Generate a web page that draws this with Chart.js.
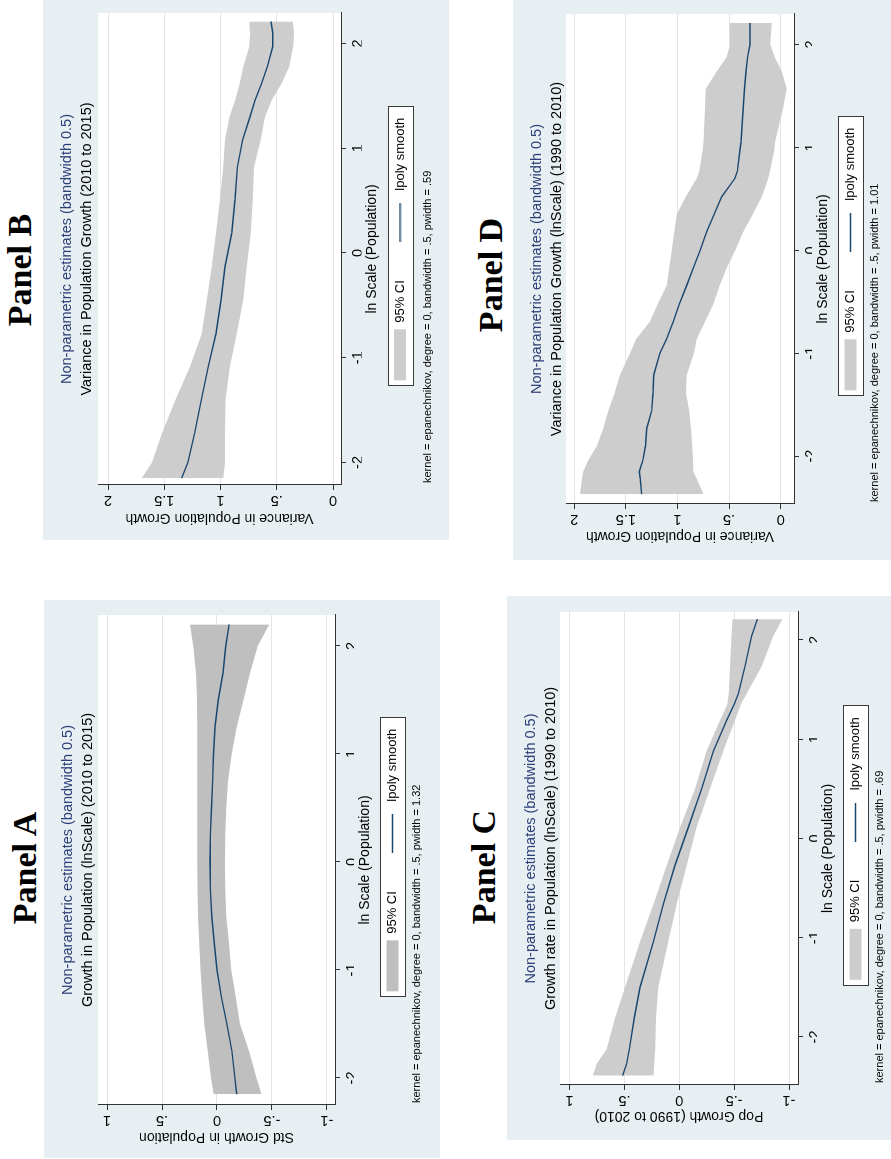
<!DOCTYPE html>
<html>
<head>
<meta charset="utf-8">
<script src="https://cdn.jsdelivr.net/npm/chart.js@4.4.1/dist/chart.umd.min.js"></script>
<style>
  html, body { margin: 0; padding: 0; background: #ffffff; }
  body { width: 891px; height: 1159px; position: relative; overflow: hidden; }
  .panel { position: absolute; transform: rotate(-90deg); transform-origin: 50% 50%; }
  .heading { position: absolute; transform: translate(-50%, -50%); white-space: nowrap;
             font-family: 'Liberation Serif', 'Times New Roman', serif; font-weight: bold;
             font-size: 34px; line-height: 1; color: #000; }
  .box { position: absolute; left: 0; background: #e8eff2; }
  canvas { display: block; }
</style>
</head>
<body>
<script>
// ---------- shared axis ticks ----------
const xTicks = [-2, -1, 0, 1, 2];
const xTickLabels = ['-2', '-1', '0', '1', '2'];
const yTicksStd = [-1, -0.5, 0, 0.5, 1];
const yTickLabelsStd = ['-1', '-.5', '0', '.5', '1'];
const yTicksVar = [0, 0.5, 1, 1.5, 2];
const yTickLabelsVar = ['0', '.5', '1', '1.5', '2'];

// ---------- Panel A: std growth in population, 2010-2015 ----------
const lnScaleA = [-2.15, -2, -1.75, -1.5, -1.25, -1, -0.75, -0.5, -0.25, 0, 0.25, 0.5, 0.75, 1, 1.25, 1.5, 1.75, 2, 2.2];
const smoothA  = [-0.18, -0.163, -0.135, -0.09, -0.04, 0.0, 0.025, 0.048, 0.06, 0.063, 0.06, 0.05, 0.04, 0.032, 0.018, -0.012, -0.055, -0.08, -0.11];
const ciUpperA = [0.03, 0.055, 0.085, 0.115, 0.135, 0.15, 0.162, 0.172, 0.178, 0.18, 0.18, 0.18, 0.18, 0.18, 0.18, 0.182, 0.19, 0.215, 0.245];
const ciLowerA = [-0.405, -0.36, -0.29, -0.21, -0.17, -0.13, -0.11, -0.085, -0.075, -0.072, -0.075, -0.085, -0.1, -0.135, -0.18, -0.24, -0.3, -0.37, -0.475];

// ---------- Panel B: variance in population growth, 2010-2015 ----------
const lnScaleB = [-2.15, -2.0, -1.72, -1.4, -1.08, -0.77, -0.45, -0.13, 0.19, 0.51, 0.82, 1.08, 1.3, 1.46, 1.62, 1.78, 1.97, 2.1, 2.21];
const smoothB  = [1.345, 1.29, 1.23, 1.17, 1.108, 1.04, 0.996, 0.96, 0.9, 0.871, 0.85, 0.803, 0.738, 0.693, 0.634, 0.584, 0.536, 0.536, 0.551];
const ciUpperB = [1.70, 1.61, 1.52, 1.40, 1.27, 1.167, 1.123, 1.078, 1.04, 1.004, 0.975, 0.96, 0.92, 0.87, 0.83, 0.797, 0.745, 0.738, 0.744];
const ciLowerB = [0.975, 0.96, 0.96, 0.955, 0.916, 0.856, 0.797, 0.767, 0.732, 0.714, 0.702, 0.643, 0.604, 0.545, 0.456, 0.388, 0.353, 0.347, 0.359];

// ---------- Panel C: population growth rate, 1990-2010 ----------
const lnScaleC = [-2.39, -2.27, -2.12, -1.81, -1.5, -1.04, -0.66, -0.27, 0.11, 0.5, 0.88, 1.19, 1.35, 1.46, 1.73, 2.04, 2.21];
const smoothC  = [0.516, 0.48, 0.455, 0.41, 0.358, 0.236, 0.145, 0.039, -0.082, -0.204, -0.31, -0.431, -0.5, -0.538, -0.598, -0.659, -0.711];
const ciUpperC = [0.789, 0.753, 0.661, 0.585, 0.494, 0.358, 0.236, 0.115, -0.006, -0.143, -0.249, -0.371, -0.437, -0.452, -0.462, -0.477, -0.486];
const ciLowerC = [0.236, 0.228, 0.218, 0.212, 0.191, 0.1, 0.024, -0.067, -0.158, -0.28, -0.401, -0.507, -0.56, -0.614, -0.75, -0.856, -0.94];

// ---------- Panel D: variance in population growth, 1990-2010 ----------
const lnScaleD = [-2.37, -2.22, -2.15, -2.04, -1.9, -1.73, -1.56, -1.39, -1.21, -1.0, -0.86, -0.69, -0.52, -0.34, -0.17, 0.0, 0.18, 0.35, 0.52, 0.7, 0.77, 0.98, 1.05, 1.39, 1.57, 1.74, 1.88, 2.0, 2.21];
const smoothD  = [1.347, 1.36, 1.37, 1.335, 1.31, 1.298, 1.25, 1.237, 1.23, 1.17, 1.105, 1.04, 0.982, 0.91, 0.846, 0.78, 0.717, 0.645, 0.572, 0.443, 0.42, 0.394, 0.385, 0.362, 0.35, 0.336, 0.32, 0.297, 0.297];
const ciUpperD = [1.944, 1.925, 1.912, 1.864, 1.78, 1.72, 1.67, 1.61, 1.557, 1.46, 1.4, 1.266, 1.19, 1.105, 1.08, 1.056, 1.03, 1.008, 0.92, 0.814, 0.79, 0.755, 0.749, 0.733, 0.725, 0.62, 0.523, 0.491, 0.497];
const ciLowerD = [0.749, 0.814, 0.846, 0.85, 0.856, 0.87, 0.885, 0.917, 0.911, 0.84, 0.814, 0.73, 0.652, 0.59, 0.523, 0.44, 0.362, 0.27, 0.184, 0.12, 0.103, 0.06, 0.055, -0.026, -0.058, -0.01, 0.06, 0.1, 0.087];

// ---------- text ----------
const estimateTitle = 'Non-parametric estimates (bandwidth 0.5)';
const xAxisTitle = 'ln Scale (Population)';
const legendLabels = ['95% CI', 'lpoly smooth'];

// ---------- styling ----------
const NAVY = '#1a476f';
const TITLE_NAVY = '#2b3f78';
const AXIS = '#333333';
const GRID = '#dde6ea';
const FONT = "'Liberation Sans', Arial, Helvetica, sans-serif";
Chart.defaults.font.family = FONT;
Chart.defaults.color = '#000';

const zip = (xs, ys) => xs.map((x, i) => ({ x: x, y: ys[i] }));

// white plot region behind the data
const plotBackground = {
  id: 'plotBackground',
  beforeDraw(chart) {
    const { ctx, chartArea: a } = chart;
    ctx.save();
    ctx.fillStyle = '#ffffff';
    ctx.fillRect(a.left, a.top, a.right - a.left, a.bottom - a.top);
    ctx.restore();
  }
};

// white, outlined frame around the legend entries
const legendFrame = {
  id: 'legendFrame',
  beforeDraw(chart) {
    const boxes = chart.legend && chart.legend.legendHitBoxes;
    if (!boxes || !boxes.length) return;
    const first = boxes[0], last = boxes[boxes.length - 1];
    const cy = first.top + first.height / 2;
    const x1 = Math.round(first.left - 6) + 0.5;
    const x2 = Math.round(last.left + last.width + 11) + 0.5;
    const y1 = Math.round(cy - 12.5) + 0.5;
    const y2 = Math.round(cy + 12.5) + 0.5;
    const ctx = chart.ctx;
    ctx.save();
    ctx.fillStyle = '#ffffff';
    ctx.fillRect(x1, y1, x2 - x1, y2 - y1);
    ctx.strokeStyle = '#3a3a3a';
    ctx.lineWidth = 1;
    ctx.strokeRect(x1, y1, x2 - x1, y2 - y1);
    ctx.restore();
  }
};

// kernel note under the legend
const noteText = {
  id: 'noteText',
  afterDraw(chart, args, opts) {
    if (!opts || !opts.text) return;
    const { ctx, chartArea: a } = chart;
    ctx.save();
    ctx.font = '11px ' + FONT;
    ctx.fillStyle = '#000';
    ctx.textAlign = 'left';
    ctx.textBaseline = 'middle';
    ctx.fillText(opts.text, a.left + opts.dx, a.bottom + opts.dy);
    ctx.restore();
  }
};

// short navy line used as the smooth's legend key
function lineKey() {
  const c = document.createElement('canvas');
  c.width = 39; c.height = 3;
  const g = c.getContext('2d');
  g.strokeStyle = NAVY; g.lineWidth = 1.4;
  g.beginPath(); g.moveTo(0, 1.5); g.lineTo(39, 1.5); g.stroke();
  return c;
}

function measure(text, size) {
  const g = document.createElement('canvas').getContext('2d');
  g.font = size + 'px ' + FONT;
  return g.measureText(text).width;
}

const panels = [
  { id: 'A', heading: 'Panel A', x0: 0, y0: 600, W: 558, boxTop: 44, boxH: 396, Hc: 440, headX: 290, headY: 25,
    left: 53, padRight: 15, subPad: 1.8, xAxisH: 19, padBottom: 31, xTitlePad: -19.1, yTitlePad: 13,
    xMin: -2.25, xMax: 2.287, yMin: -1.073, yMax: 1.082, yTicks: yTicksStd, yLabels: yTickLabelsStd,
    ciColor: '#bfbfbf', title2: 'Growth in Population (lnScale) (2010 to 2015)', yTitle: 'Std Growth in Population',
    note: 'kernel = epanechnikov, degree = 0, bandwidth = .5, pwidth = 1.32', noteDy: 82,
    x: lnScaleA, s: smoothA, hi: ciUpperA, lo: ciLowerA },
  { id: 'B', heading: 'Panel B', x0: 0, y0: 0, W: 540, boxTop: 43, boxH: 406, Hc: 450, headX: 270, headY: 20,
    left: 55, padRight: 13, subPad: 2.8, xAxisH: 20.5, padBottom: 32.5, xTitlePad: -18.6, yTitlePad: 14,
    xMin: -2.215, xMax: 2.291, yMin: -0.071, yMax: 2.089, yTicks: yTicksVar, yLabels: yTickLabelsVar,
    ciColor: '#cdcdcd', title2: 'Variance in Population Growth (2010 to 2015)', yTitle: 'Variance in Population Growth',
    note: 'kernel = epanechnikov, degree = 0, bandwidth = .5, pwidth = .59', noteDy: 87,
    x: lnScaleB, s: smoothB, hi: ciUpperB, lo: ciLowerB },
  { id: 'C', heading: 'Panel C', x0: 455, y0: 596, W: 544, boxTop: 52, boxH: 384, Hc: 436, headX: 273, headY: 29,
    left: 55, padRight: 16, subPad: 0.8, xAxisH: 19, padBottom: 19, xTitlePad: -19.1, yTitlePad: 16,
    xMin: -2.484, xMax: 2.282, yMin: -1.082, yMax: 1.087, yTicks: yTicksStd, yLabels: yTickLabelsStd,
    ciColor: '#cdcdcd', title2: 'Growth rate in Population (lnScale) (1990 to 2010)', yTitle: 'Pop Growth (1990 to 2010)',
    note: 'kernel = epanechnikov, degree = 0, bandwidth = .5, pwidth = .69', noteDy: 82,
    x: lnScaleC, s: smoothC, hi: ciUpperC, lo: ciLowerC },
  { id: 'D', heading: 'Panel D', x0: 455, y0: 0, W: 560, boxTop: 58, boxH: 378, Hc: 436, headX: 285, headY: 36,
    left: 56, padRight: 14, subPad: 0.8, xAxisH: 18, padBottom: 24, xTitlePad: -19.1, yTitlePad: 16,
    xMin: -2.465, xMax: 2.297, yMin: -0.129, yMax: 2.08, yTicks: yTicksVar, yLabels: yTickLabelsVar,
    ciColor: '#cdcdcd', title2: 'Variance in Population Growth (lnScale) (1990 to 2010)', yTitle: 'Variance in Population Growth',
    note: 'kernel = epanechnikov, degree = 0, bandwidth = .5, pwidth = 1.01', noteDy: 81,
    x: lnScaleD, s: smoothD, hi: ciUpperD, lo: ciLowerD }
];

const TICK_SIZE = 14.5;
const AXIS_TITLE_SIZE = 14;

function buildPanel(p) {
  // the figure is laid out sideways: each panel is drawn upright, then turned a quarter turn
  const wrap = document.createElement('div');
  wrap.className = 'panel';
  wrap.style.width = p.W + 'px';
  wrap.style.height = p.Hc + 'px';
  wrap.style.left = (p.x0 + p.Hc / 2 - p.W / 2) + 'px';
  wrap.style.top = (p.y0 + p.W / 2 - p.Hc / 2) + 'px';

  const head = document.createElement('div');
  head.className = 'heading';
  head.textContent = p.heading;
  head.style.left = p.headX + 'px';
  head.style.top = p.headY + 'px';

  const box = document.createElement('div');
  box.className = 'box';
  box.style.top = p.boxTop + 'px';
  box.style.width = p.W + 'px';
  box.style.height = p.boxH + 'px';
  const canvas = document.createElement('canvas');
  canvas.width = p.W; canvas.height = p.boxH;
  box.appendChild(canvas);
  wrap.appendChild(head);
  wrap.appendChild(box);
  document.body.appendChild(wrap);

  const widest = Math.max.apply(null, p.yLabels.map(t => measure(t, TICK_SIZE)));
  const key = lineKey();

  new Chart(canvas, {
    type: 'line',
    data: {
      datasets: [
        // confidence band: upper edge filled down to the lower edge
        { label: legendLabels[0], data: zip(p.x, p.hi), borderWidth: 0, borderColor: 'rgba(0,0,0,0)',
          backgroundColor: p.ciColor, pointRadius: 0, fill: '+1', tension: 0, order: 2 },
        { label: 'lower', data: zip(p.x, p.lo), borderWidth: 0, borderColor: 'rgba(0,0,0,0)',
          pointRadius: 0, fill: false, tension: 0, order: 3 },
        // local polynomial smooth, drawn on top of the band
        { label: legendLabels[1], data: zip(p.x, p.s), borderColor: NAVY, borderWidth: 1.4,
          pointRadius: 0, fill: false, tension: 0, order: 1 }
      ]
    },
    options: {
      responsive: false,
      animation: false,
      devicePixelRatio: 1,
      events: [],
      layout: { padding: { left: 0, top: 0, right: p.padRight, bottom: p.padBottom } },
      scales: {
        x: {
          type: 'linear', min: p.xMin, max: p.xMax,
          afterBuildTicks: s => { s.ticks = xTicks.map(v => ({ value: v })); },
          afterFit: s => { s.height = p.xAxisH; },
          ticks: { callback: (v, i) => xTickLabels[i], font: { size: TICK_SIZE }, color: '#000',
                   padding: 3.5, autoSkip: false, maxRotation: 0 },
          grid: { drawOnChartArea: false, drawTicks: true, tickLength: 5, tickColor: AXIS, tickWidth: 1 },
          border: { display: true, color: AXIS, width: 1 },
          title: { display: true, text: xAxisTitle, color: '#000', font: { size: AXIS_TITLE_SIZE },
                   padding: { top: 0, bottom: p.xTitlePad - 0.3 } }
        },
        y: {
          type: 'linear', min: p.yMin, max: p.yMax,
          afterBuildTicks: s => { s.ticks = p.yTicks.map(v => ({ value: v })); },
          afterFit: s => { s.width = p.left; },
          ticks: { callback: (v, i) => p.yLabels[i], font: { size: TICK_SIZE }, color: '#000',
                   minRotation: 90, maxRotation: 90, crossAlign: 'center',
                   padding: 10 - widest / 2, autoSkip: false },
          grid: { color: GRID, lineWidth: 1, drawTicks: true, tickLength: 5, tickColor: AXIS, tickWidth: 1 },
          border: { display: true, color: AXIS, width: 1 },
          title: { display: true, text: p.yTitle, color: '#000', font: { size: AXIS_TITLE_SIZE },
                   padding: { top: p.yTitlePad - 0.3, bottom: 0 } }
        }
      },
      plugins: {
        title: { display: true, text: estimateTitle, color: TITLE_NAVY, fullSize: false,
                 font: { size: 14.5, weight: 'normal', lineHeight: 1.2 }, padding: { top: 14.8, bottom: 0 } },
        subtitle: { display: true, text: p.title2, color: '#000', fullSize: false,
                    font: { size: 14.5, weight: 'normal', lineHeight: 1.2 }, padding: { top: 2.6, bottom: p.subPad } },
        legend: {
          display: true, position: 'bottom', fullSize: false,
          labels: {
            usePointStyle: true, pointStyleWidth: 51, boxHeight: 12, padding: 32,
            color: '#000', font: { size: 13 },
            generateLabels: () => [
              { text: legendLabels[0], fillStyle: p.ciColor, strokeStyle: p.ciColor, lineWidth: 0,
                pointStyle: 'rect', hidden: false, datasetIndex: 0 },
              { text: legendLabels[1], fillStyle: 'rgba(0,0,0,0)', strokeStyle: NAVY, lineWidth: 0,
                pointStyle: key, hidden: false, datasetIndex: 2 }
            ]
          }
        },
        tooltip: { enabled: false },
        noteText: { text: p.note, dx: 2, dy: p.noteDy }
      }
    },
    plugins: [plotBackground, legendFrame, noteText]
  });
}

panels.forEach(buildPanel);
</script>
</body>
</html>
